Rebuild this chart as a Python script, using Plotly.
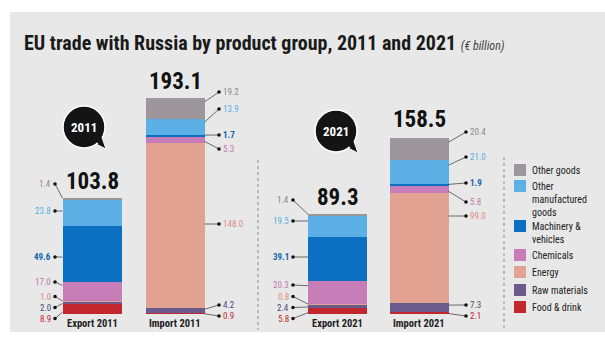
import plotly.graph_objects as go

# ---------------- data ----------------
bars = ["Export 2011", "Import 2011", "Export 2021", "Import 2021"]
totals = [103.8, 193.1, 89.3, 158.5]
years = ["2011", "2021"]

categories = ["Food & drink", "Raw materials", "Energy", "Chemicals",
              "Machinery & vehicles", "Other manufactured goods", "Other goods"]
food_drink = [8.9, 0.9, 5.8, 2.1]
raw_materials = [2.0, 4.2, 2.4, 7.3]
energy = [1.0, 148.0, 0.8, 99.0]
chemicals = [17.0, 5.3, 20.3, 5.8]
machinery = [49.6, 1.7, 39.1, 1.9]
other_manufactured = [23.8, 13.9, 19.5, 21.0]
other_goods = [1.4, 19.2, 1.4, 20.4]
series = [food_drink, raw_materials, energy, chemicals, machinery,
          other_manufactured, other_goods]

legend_labels = ["Other goods", "Other<br>manufactured<br>goods", "Machinery &<br>vehicles",
                 "Chemicals", "Energy", "Raw materials", "Food & drink"]

# ---------------- style / layout ----------------
W, H = 605, 339
FONT = "Liberation Sans Narrow, Arial Narrow, Roboto Condensed, Roboto, sans-serif"
fill_colors = ["#c1272d", "#6a5b8c", "#e2a292", "#c77db7", "#0b6fc2", "#5cb0e6", "#9c9599"]
text_colors = ["#c1272d", "#4e4a7c", "#d98f80", "#bf78ae", "#1565b0", "#5aaee3", "#8f8a8c"]

BASE = 314.0          # pixel row of the zero line
SCALE = 1.12          # pixels per € billion
bar_x = [92, 175, 337.5, 419]
bar_w = 59
label_side = ["left", "right", "left", "right"]
dot_x = [55, 219, 293, 466]
# pixel rows of value labels, bottom -> top segment order
label_rows = [
    [318.5, 307.5, 296.5, 282, 257, 211, 184],
    [316, 305, 224, 149, 135, 109, 92],
    [318.5, 307.5, 296.5, 285, 257, 221, 200],
    [316, 305, 216, 202, 183, 157, 132],
]

fig = go.Figure()

for i, cat in enumerate(categories):
    fig.add_trace(go.Bar(
        x=bar_x, y=series[i], width=bar_w, name=cat,
        marker=dict(color=fill_colors[i], line=dict(width=0)),
        showlegend=False, hoverinfo="skip"))

shapes = []
ann = []

# panel background
shapes.append(dict(type="rect", xref="x", yref="y2", x0=10, x1=W, y0=12, y1=332,
                   fillcolor="#e8e8e8", line=dict(width=0), layer="below"))

# title
ann.append(dict(xref="x", yref="y2", x=22, y=43, xanchor="left", yanchor="middle",
                showarrow=False,
                text="<b>EU trade with Russia by product group, 2011 and 2021</b> "
                     "<i><span style='font-size:12px;color:#444'>(€ billion)</span></i>",
                font=dict(family=FONT, size=20, color="#1a1a1a")))

def px(v):
    return BASE - v * SCALE

for b in range(len(bars)):
    cum = 0.0
    for i in range(len(categories)):
        v = series[i][b]
        seg_bot, seg_top = px(cum), px(cum + v)
        cum += v
        h = seg_bot - seg_top
        lo, hi = seg_top + 0.2 * h, seg_bot - 0.2 * h
        ly = label_rows[b][i]
        ey = min(max(ly, lo), hi)
        edge = bar_x[b] - bar_w / 2 if label_side[b] == "left" else bar_x[b] + bar_w / 2
        shapes.append(dict(type="line", xref="x", yref="y2", x0=dot_x[b], y0=ly,
                           x1=edge, y1=ey, line=dict(color="#4a4a4a", width=0.8)))
        shapes.append(dict(type="circle", xref="x", yref="y2", x0=dot_x[b] - 1.8,
                           x1=dot_x[b] + 1.8, y0=ly - 1.8, y1=ly + 1.8,
                           fillcolor="#111", line=dict(width=0)))
        txt = f"{v:.1f}"
        if i == 4:
            txt = f"<b>{txt}</b>"
        left = label_side[b] == "left"
        ann.append(dict(xref="x", yref="y2", x=dot_x[b] - 3 if left else dot_x[b] + 3,
                        y=ly, xanchor="right" if left else "left",
                        yanchor="middle", showarrow=False, text=txt, borderpad=0,
                        font=dict(family=FONT, size=9, color=text_colors[i])))
    # total above the bar
    ann.append(dict(xref="x", yref="y", x=bar_x[b], y=totals[b], xanchor="center",
                    yanchor="bottom", yshift=1, showarrow=False, text=f"<b>{totals[b]:.1f}</b>",
                    font=dict(family=FONT, size=23, color="#111")))
    # category label
    ann.append(dict(xref="x", yref="y", x=bar_x[b], y=0, xanchor="center",
                    yanchor="top", yshift=-1, showarrow=False, text=f"<b>{bars[b]}</b>",
                    font=dict(family=FONT, size=10.5, color="#222")))

# dashed separators
for sx, sy in [(258, 160), (504, 157)]:
    shapes.append(dict(type="line", xref="x", yref="y2", x0=sx, x1=sx, y0=sy, y1=330,
                       line=dict(color="#8a8a8a", width=1, dash="dot")))

# year badges
for (cx, cy), yr in zip([(84, 127), (336, 131)], years):
    r = 21
    shapes.append(dict(type="path", xref="x", yref="y2",
                       path=f"M {cx + 10},{cy + 16} L {cx + 22},{cy + 22} L {cx + 17},{cy + 10} Z",
                       fillcolor="#141414", line=dict(color="#ffffff", width=1)))
    shapes.append(dict(type="circle", xref="x", yref="y2", x0=cx - r, x1=cx + r,
                       y0=cy - r, y1=cy + r, fillcolor="#141414",
                       line=dict(color="#ffffff", width=1.5)))
    shapes.append(dict(type="path", xref="x", yref="y2",
                       path=f"M {cx + 11},{cy + 14} L {cx + 21},{cy + 21} L {cx + 17},{cy + 9} Z",
                       fillcolor="#141414", line=dict(width=0)))
    ann.append(dict(xref="x", yref="y2", x=cx, y=cy, xanchor="center", yanchor="middle",
                    showarrow=False, text=f"<b>{yr}</b>",
                    font=dict(family=FONT, size=13, color="#ffffff")))

# custom legend
legend_rows = [170, 186, 226, 255, 272, 290, 307]
legend_order = [6, 5, 4, 3, 2, 1, 0]
for row_y, idx, lab in zip(legend_rows, legend_order, legend_labels):
    shapes.append(dict(type="rect", xref="x", yref="y2", x0=514, x1=526,
                       y0=row_y - 6, y1=row_y + 6, fillcolor=fill_colors[idx],
                       line=dict(width=0)))
    ann.append(dict(xref="x", yref="y2", x=530, y=row_y - 7, xanchor="left", yanchor="top",
                    align="left", showarrow=False, text=lab,
                    font=dict(family=FONT, size=10, color="#222")))

fig.update_layout(
    width=W, height=H, margin=dict(l=0, r=0, t=0, b=0),
    paper_bgcolor="#ffffff", plot_bgcolor="rgba(0,0,0,0)",
    barmode="stack", bargap=0,
    xaxis=dict(range=[0, W], visible=False, fixedrange=True),
    yaxis=dict(range=[-(H - BASE) / SCALE, BASE / SCALE], visible=False, fixedrange=True),
    yaxis2=dict(range=[H, 0], overlaying="y", visible=False, fixedrange=True),
    shapes=shapes, annotations=ann, showlegend=False,
)

fig.write_html("out.html")
